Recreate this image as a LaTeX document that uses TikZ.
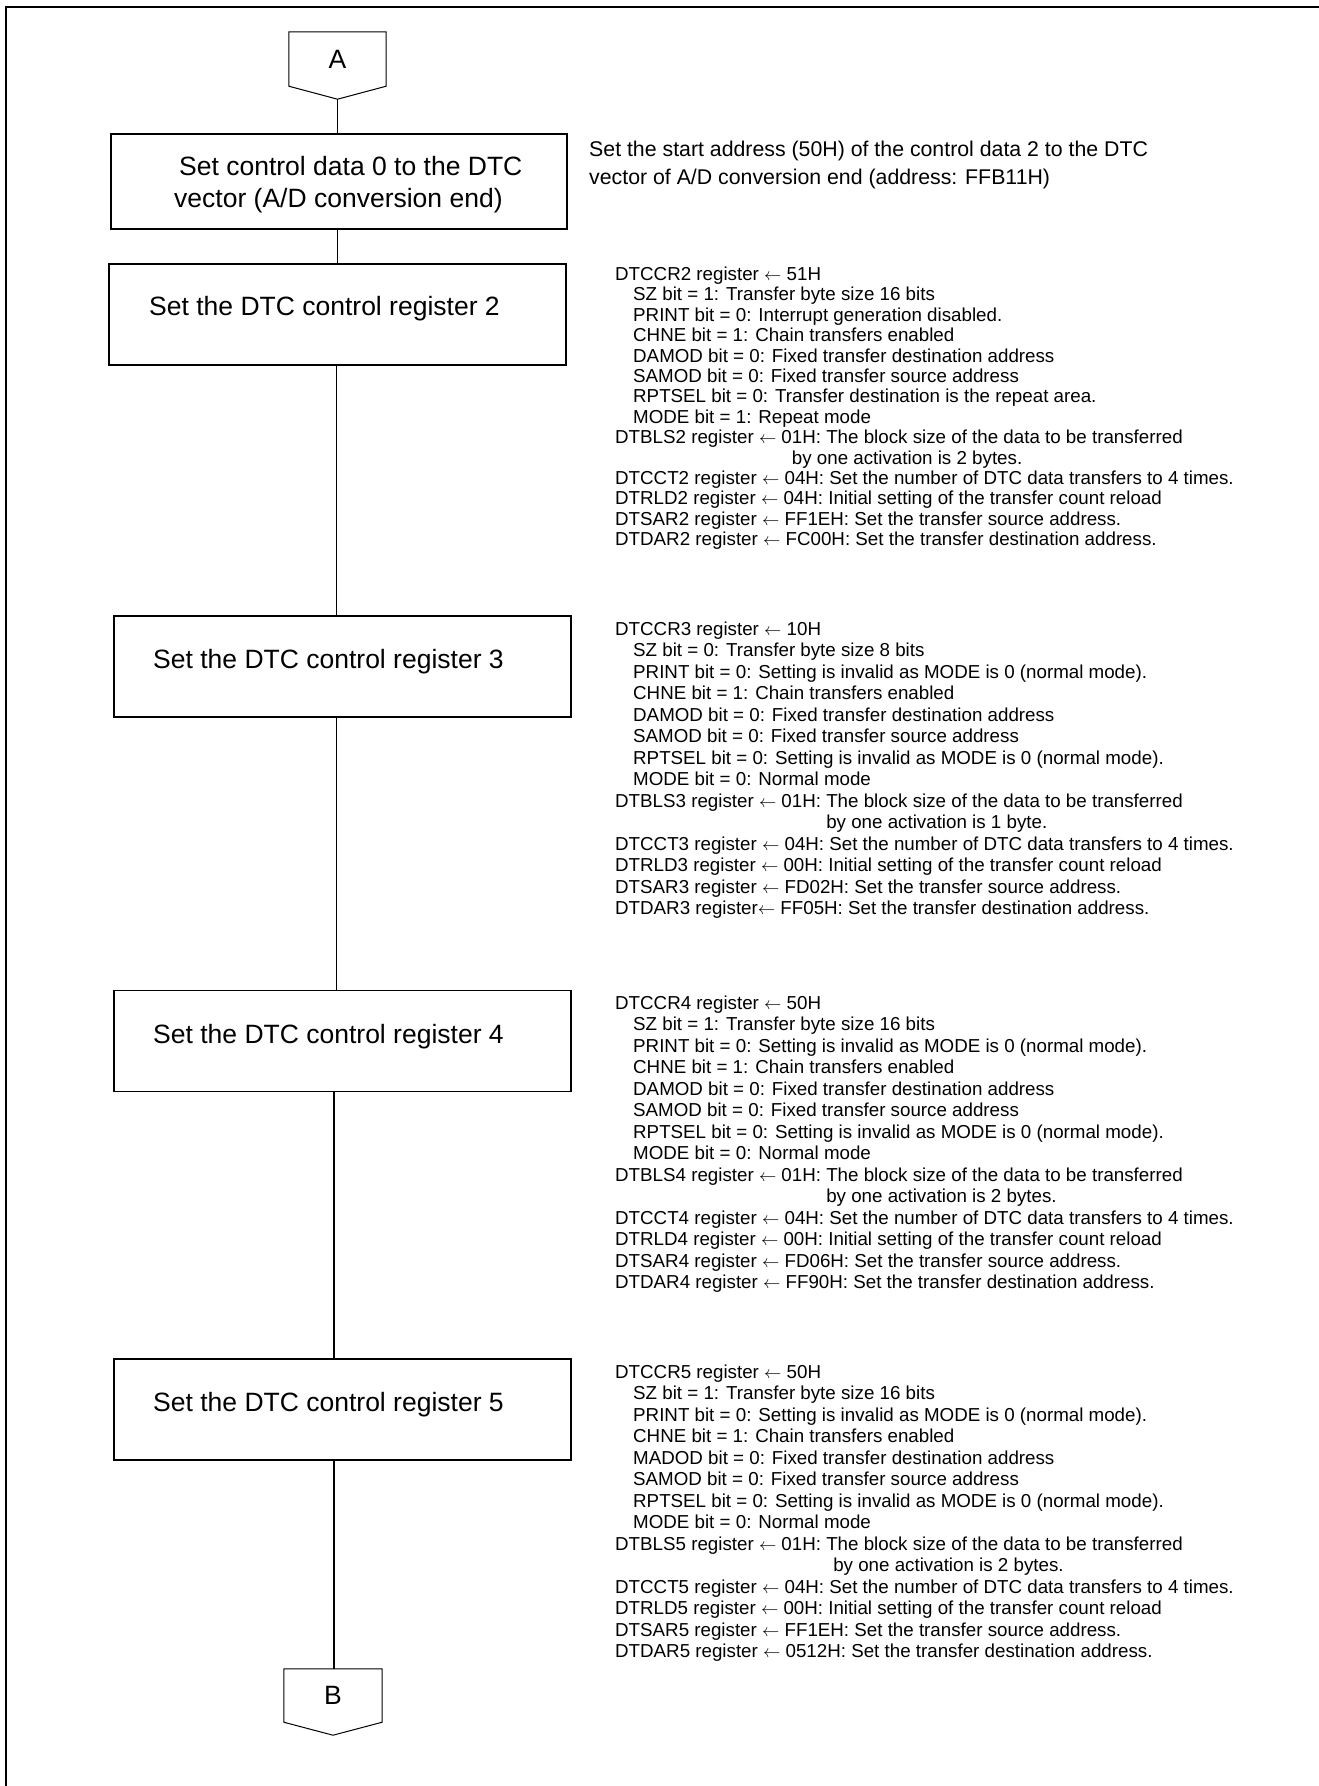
\documentclass[tikz,border=0pt]{standalone}
\usepackage{fontspec}
\setmainfont{Liberation Sans}
\usetikzlibrary{calc}
% arrow used in the register assignments
\newcommand{\regarrow}{$\leftarrow$}
% indentation of the bit descriptions
\newcommand{\bitind}{\hspace*{18pt}}
\begin{document}
\begin{tikzpicture}[x=1pt,y=-1pt,
  frame/.style={line width=2pt},
  stepbox/.style={draw, line width=1.7pt, inner sep=0pt, minimum width=457pt, minimum height=101pt},
  boxtext/.style={anchor=base west, inner sep=0pt, font=\fontsize{26.5}{30}\selectfont},
  note/.style={anchor=base west, inner sep=0pt, font=\fontsize{21.3}{25}\selectfont},
  regs/.style={anchor=base west, inner sep=0pt, font=\fontsize{18.75}{21.5}\selectfont},
  regstight/.style={anchor=base west, inner sep=0pt, font=\fontsize{18.75}{20.4}\selectfont},
  link/.style={line width=1.4pt},
  offpage/.style={inner sep=0pt, minimum width=97pt, minimum height=54pt, font=\fontsize{26.5}{30}\selectfont},
  offline/.style={line width=1pt, line join=miter}
]
\useasboundingbox (0,0) rectangle (1319,1786);
\fill[white] (0,0) rectangle (1319,1786);

% page frame (left and top edges)
\draw[frame] (6,1786) -- (6,7) -- (1319,7);

% off-page connector A
\node[offpage] (A) at (337.5,59) {A};
\coordinate (Atip) at ($(A.south)+(0,13)$);
\draw[offline] (A.north west) -- (A.north east) -- (A.south east) -- (Atip) -- (A.south west) -- cycle;

% process boxes
\node[stepbox, minimum width=456pt, minimum height=95pt] (b1) at (339,181.5) {};
\node[stepbox] (b2) at (337.5,314.5) {};
\node[stepbox] (b3) at (342.5,666.5) {};
\node[stepbox] (b4) at (342.5,1041) {};
\node[stepbox] (b5) at (342.5,1409.5) {};

% box captions
\node[boxtext] (t1a) at (179,175) {Set control data 0 to the DTC};
\node[boxtext] (t1b) at (174,207) {vector (A/D conversion end)};
\node[boxtext] (t2) at (149,315) {Set the DTC control register 2};
\node[boxtext] (t3) at (153,668) {Set the DTC control register 3};
\node[boxtext] (t4) at (153,1043) {Set the DTC control register 4};
\node[boxtext] (t5) at (153,1411) {Set the DTC control register 5};

% off-page connector B
\node[offpage, minimum width=98pt, minimum height=53pt] (B) at (333,1695.5) {B};
\coordinate (Btip) at ($(B.south)+(0,13)$);
\draw[offline] (B.north west) -- (B.north east) -- (B.south east) -- (Btip) -- (B.south west) -- cycle;

% flow line
\coordinate (xa) at (337.5,0);
\coordinate (xb) at (336.5,0);
\coordinate (xc) at (334,0);
\draw[link] (Atip) -- (b1.north -| Atip);
\draw[link] (b1.south -| xa) -- (b2.north -| xa);
\draw[link] (b2.south -| xb) -- (b3.north -| xb);
\draw[link] (b3.south -| xb) -- (b4.north -| xb);
\draw[link] (b4.south -| xc) -- (b5.north -| xc);
\draw[link] (b5.south -| xc) -- (B.north -| xc);

% remark on the vector setting
\node[note] (n1) at (589,156) {Set the start address (50H) of the control data 2 to the DTC};
\node[note] (n2) at (589,184.5) {vector of A/D conversion end (address: FFB11H)};

% register settings, control data 2
\node[regstight] (r2) at (615,280.5) {\begin{tabular}[t]{@{}l@{}}
DTCCR2 register \regarrow{} 51H\\
\bitind SZ bit = 1: Transfer byte size 16 bits\\
\bitind PRINT bit = 0: Interrupt generation disabled.\\
\bitind CHNE bit = 1: Chain transfers enabled\\
\bitind DAMOD bit = 0: Fixed transfer destination address\\
\bitind SAMOD bit = 0: Fixed transfer source address\\
\bitind RPTSEL bit = 0: Transfer destination is the repeat area.\\
\bitind MODE bit = 1: Repeat mode\\
DTBLS2 register \regarrow{} 01H: The block size of the data to be transferred\\
\phantom{DTBLS2 register \regarrow{} 0}by one activation is 2 bytes.\\
DTCCT2 register \regarrow{} 04H: Set the number of DTC data transfers to 4 times.\\
DTRLD2 register \regarrow{} 04H: Initial setting of the transfer count reload\\
DTSAR2 register \regarrow{} FF1EH: Set the transfer source address.\\
DTDAR2 register \regarrow{} FC00H: Set the transfer destination address.
\end{tabular}};

% register settings, control data 3
\node[regs] (r3) at (615,635) {\begin{tabular}[t]{@{}l@{}}
DTCCR3 register \regarrow{} 10H\\
\bitind SZ bit = 0: Transfer byte size 8 bits\\
\bitind PRINT bit = 0: Setting is invalid as MODE is 0 (normal mode).\\
\bitind CHNE bit = 1: Chain transfers enabled\\
\bitind DAMOD bit = 0: Fixed transfer destination address\\
\bitind SAMOD bit = 0: Fixed transfer source address\\
\bitind RPTSEL bit = 0: Setting is invalid as MODE is 0 (normal mode).\\
\bitind MODE bit = 0: Normal mode\\
DTBLS3 register \regarrow{} 01H: The block size of the data to be transferred\\
\phantom{DTBLS3 register \regarrow{} 01H: }by one activation is 1 byte.\\
DTCCT3 register \regarrow{} 04H: Set the number of DTC data transfers to 4 times.\\
DTRLD3 register \regarrow{} 00H: Initial setting of the transfer count reload\\
DTSAR3 register \regarrow{} FD02H: Set the transfer source address.\\
DTDAR3 register\regarrow{} FF05H: Set the transfer destination address.
\end{tabular}};

% register settings, control data 4
\node[regs] (r4) at (615,1009) {\begin{tabular}[t]{@{}l@{}}
DTCCR4 register \regarrow{} 50H\\
\bitind SZ bit = 1: Transfer byte size 16 bits\\
\bitind PRINT bit = 0: Setting is invalid as MODE is 0 (normal mode).\\
\bitind CHNE bit = 1: Chain transfers enabled\\
\bitind DAMOD bit = 0: Fixed transfer destination address\\
\bitind SAMOD bit = 0: Fixed transfer source address\\
\bitind RPTSEL bit = 0: Setting is invalid as MODE is 0 (normal mode).\\
\bitind MODE bit = 0: Normal mode\\
DTBLS4 register \regarrow{} 01H: The block size of the data to be transferred\\
\phantom{DTBLS4 register \regarrow{} 01H: }by one activation is 2 bytes.\\
DTCCT4 register \regarrow{} 04H: Set the number of DTC data transfers to 4 times.\\
DTRLD4 register \regarrow{} 00H: Initial setting of the transfer count reload\\
DTSAR4 register \regarrow{} FD06H: Set the transfer source address.\\
DTDAR4 register \regarrow{} FF90H: Set the transfer destination address.
\end{tabular}};

% register settings, control data 5
\node[regs] (r5) at (615,1378) {\begin{tabular}[t]{@{}l@{}}
DTCCR5 register \regarrow{} 50H\\
\bitind SZ bit = 1: Transfer byte size 16 bits\\
\bitind PRINT bit = 0: Setting is invalid as MODE is 0 (normal mode).\\
\bitind CHNE bit = 1: Chain transfers enabled\\
\bitind MADOD bit = 0: Fixed transfer destination address\\
\bitind SAMOD bit = 0: Fixed transfer source address\\
\bitind RPTSEL bit = 0: Setting is invalid as MODE is 0 (normal mode).\\
\bitind MODE bit = 0: Normal mode\\
DTBLS5 register \regarrow{} 01H: The block size of the data to be transferred\\
\phantom{DTBLS5 register \regarrow{} 01H: }\hspace*{7pt}by one activation is 2 bytes.\\
DTCCT5 register \regarrow{} 04H: Set the number of DTC data transfers to 4 times.\\
DTRLD5 register \regarrow{} 00H: Initial setting of the transfer count reload\\
DTSAR5 register \regarrow{} FF1EH: Set the transfer source address.\\
DTDAR5 register \regarrow{} 0512H: Set the transfer destination address.
\end{tabular}};
\end{tikzpicture}
\end{document}
